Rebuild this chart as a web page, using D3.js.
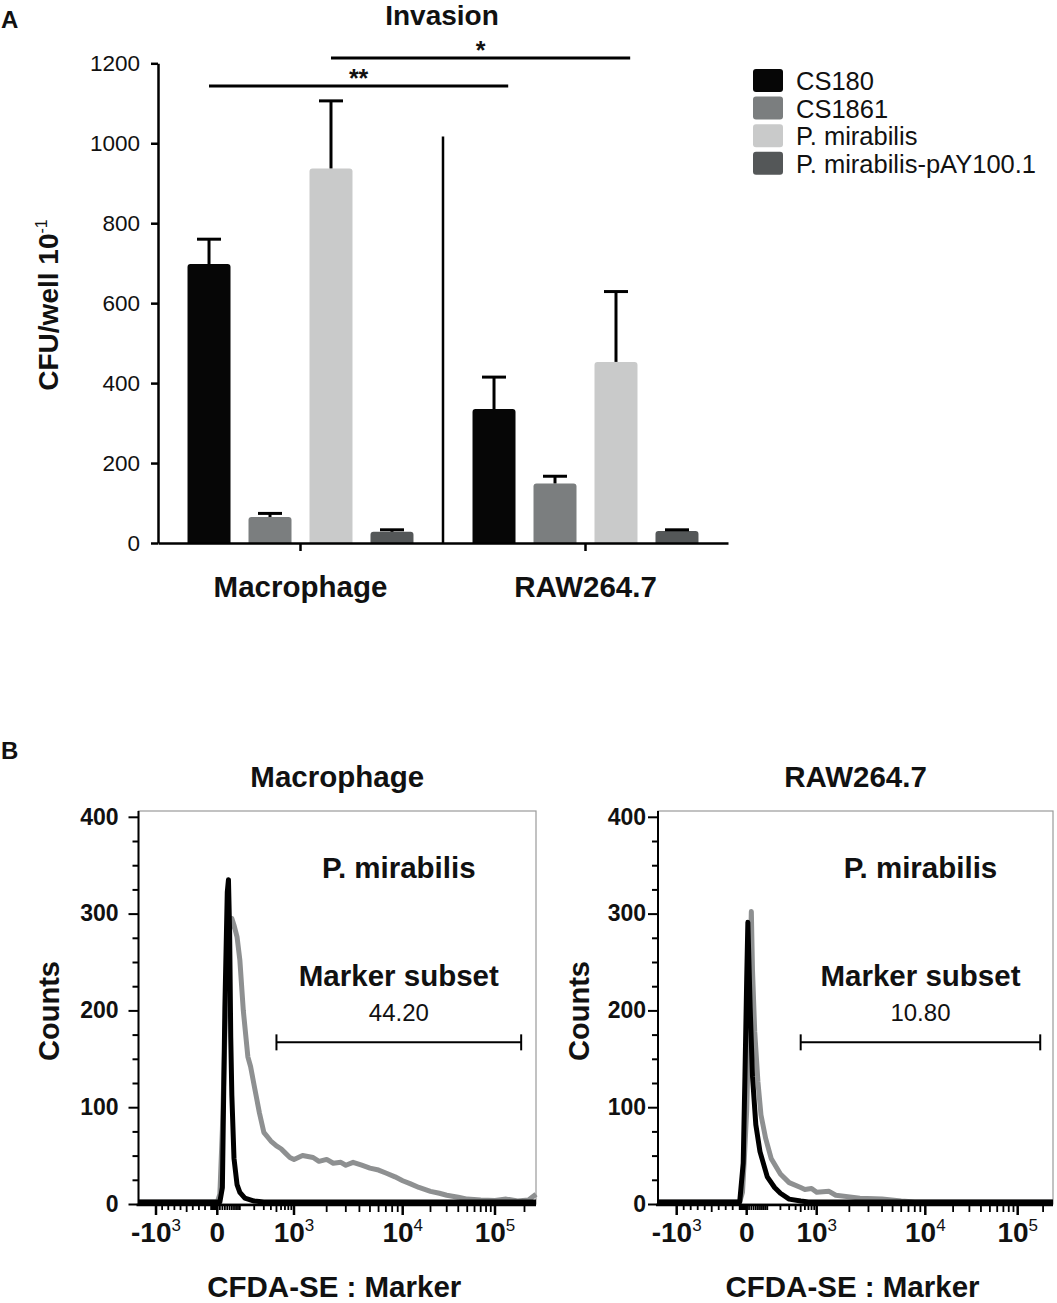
<!DOCTYPE html>
<html>
<head>
<meta charset="utf-8">
<script src="https://cdn.jsdelivr.net/npm/d3@7"></script>
<style>
    body { margin: 0; background: #fff; }
    svg { display: block; font-family: 'Liberation Sans', Arial, Helvetica, sans-serif; fill: #111; }
</style>
</head>
<body>
<svg id="figure" width="1057" height="1303"></svg>
<script>

// ---- Panel A : invasion (CFU/well x 10^-1) ----
var groups = [ 'Macrophage', 'RAW264.7' ];
var strains = [ 'CS180', 'CS1861', 'P. mirabilis', 'P. mirabilis-pAY100.1' ];
var strain_colors = [ '#060606', '#7b7e7f', '#c9caca', '#545758' ];

var macrophage_mean = [ 698, 65, 937, 28 ];
var macrophage_sem = [ 62, 9, 169, 5 ];
var raw_mean = [ 335, 149, 453, 30 ];
var raw_sem = [ 80, 18, 176, 3 ];

var cfu_ticks = [ 0, 200, 400, 600, 800, 1000, 1200 ];

// significance brackets: [group, strain] -> [group, strain]
var sig_labels = [ '**', '*' ];
var sig_from = [ [ 0, 0 ], [ 0, 2 ] ];
var sig_to = [ [ 1, 0 ], [ 1, 2 ] ];
var sig_level = [ 1143, 1213 ];

// ---- Panel B : CFDA-SE histograms, [fluorescence, counts] ----
var mac_control = [
    [ -1300, 0 ], [ 10, 0 ], [ 20, 15 ], [ 30, 200 ], [ 40, 320 ], [ 45, 333 ], [ 50, 280 ],
    [ 55, 170 ], [ 60, 110 ], [ 70, 45 ], [ 85, 18 ], [ 100, 10 ], [ 130, 4 ], [ 200, 1 ],
    [ 300, 0 ], [ 262144, 0 ]
];
var mac_sample = [
    [ -1300, 0 ], [ 0, 0 ], [ 10, 8 ], [ 20, 75 ], [ 30, 170 ], [ 40, 250 ], [ 50, 282 ],
    [ 60, 293 ], [ 70, 286 ], [ 85, 274 ], [ 100, 250 ], [ 120, 198 ], [ 150, 150 ],
    [ 170, 140 ], [ 200, 120 ], [ 250, 92 ], [ 300, 72 ], [ 400, 63 ], [ 500, 58 ],
    [ 600, 55 ], [ 700, 51 ], [ 850, 46 ], [ 1000, 44 ], [ 1200, 48 ], [ 1500, 46 ],
    [ 1700, 42 ], [ 2000, 44 ], [ 2300, 40 ], [ 2700, 41 ], [ 3000, 38 ], [ 3500, 41 ],
    [ 4200, 38 ], [ 5000, 35 ], [ 6000, 33 ], [ 7000, 30 ], [ 8500, 26 ], [ 10000, 22 ],
    [ 12000, 19 ], [ 15000, 15 ], [ 20000, 11 ], [ 25000, 9 ], [ 30000, 7 ], [ 40000, 5 ],
    [ 50000, 3 ], [ 70000, 2 ], [ 100000, 1.5 ], [ 130000, 3 ], [ 170000, 1 ],
    [ 220000, 2 ], [ 262144, 8 ]
];
var raw_control = [
    [ -1300, 0 ], [ -100, 0 ], [ -50, 40 ], [ -25, 130 ], [ 0, 230 ], [ 5, 289 ], [ 15, 200 ],
    [ 25, 130 ], [ 40, 80 ], [ 60, 52 ], [ 100, 26 ], [ 150, 15 ], [ 200, 9 ], [ 300, 3 ],
    [ 500, 1 ], [ 700, 0 ], [ 262144, 0 ]
];
var raw_sample = [
    [ -1300, 0 ], [ -100, 0 ], [ -60, 10 ], [ -30, 50 ], [ 0, 95 ], [ 10, 190 ], [ 15, 250 ],
    [ 20, 300 ], [ 25, 240 ], [ 35, 176 ], [ 50, 124 ], [ 65, 90 ], [ 90, 66 ], [ 125, 45 ],
    [ 200, 29 ], [ 300, 20 ], [ 500, 15 ], [ 600, 13 ], [ 800, 14 ], [ 1000, 10 ],
    [ 1300, 11 ], [ 1500, 7 ], [ 2500, 4 ], [ 4000, 3 ], [ 6000, 1 ], [ 8000, 0 ], [ 262144, 0 ]
];

var count_ticks = [ 0, 100, 200, 300, 400 ];
var count_minor = [ 25, 50, 75, 125, 150, 175, 225, 250, 275, 325, 350, 375 ];
var fl_ticks = [ -1000, 0, 1000, 10000, 100000 ];
var fl_tick_base = [ '-10', '0', '10', '10', '10' ];
var fl_tick_exp = [ '3', '', '3', '4', '5' ];
var marker_gate = [ 500, 185000 ];
var marker_level = 167;
var marker_pct = [ '44.20', '10.80' ];

// axis calibration of the biexponential display (value -> px from box left)
var fl_anchor_values = [ -1300, -1000, 0, 1000, 10000, 100000, 262144 ];

var svg = d3.select( '#figure' );

draw_panel_a();
draw_panel_b();

function draw_panel_a () {

    var y = d3.scaleLinear().domain( [ 0, 1200 ] ).range( [ 543, 63.3 ] );
    var x0 = d3.scaleBand().domain( groups ).range( [ 158, 728 ] );
    var x1 = d3.scaleBand().domain( strains ).range( [ 0, x0.bandwidth() ] )
        .paddingInner( 0.295 ).paddingOuter( 0.484 );
    var means = [ macrophage_mean, raw_mean ];
    var sems = [ macrophage_sem, raw_sem ];

    var g = svg.append( 'g' );

    svg.append( 'defs' ).append( 'clipPath' ).attr( 'id', 'above-zero' )
        .append( 'rect' )
        .attr( 'x', 0 ).attr( 'y', 0 )
        .attr( 'width', 1057 ).attr( 'height', y( 0 ) );

    g.append( 'text' ).text( 'A' )
        .attr( 'x', 1 ).attr( 'y', 28 )
        .attr( 'font-size', '24px' ).attr( 'font-weight', 'bold' );

    g.append( 'text' ).text( 'Invasion' )
        .attr( 'x', 442 ).attr( 'y', 25 )
        .attr( 'text-anchor', 'middle' )
        .attr( 'font-size', '28px' ).attr( 'font-weight', 'bold' );

    // Bars
    var rows = [];
    groups.forEach( function ( grp, gi ) {
        strains.forEach( function ( s, si ) {
            rows.push( { group: grp, strain: s, color: strain_colors[ si ], mean: means[ gi ][ si ], sem: sems[ gi ][ si ] } );
        });
    });

    g.append( 'g' ).attr( 'clip-path', 'url(#above-zero)' )
        .selectAll( 'rect' ).data( rows ).enter().append( 'rect' )
        .attr( 'x', function ( d ) { return x0( d.group ) + x1( d.strain ); } )
        .attr( 'y', function ( d ) { return y( d.mean ); } )
        .attr( 'width', x1.bandwidth() )
        .attr( 'height', function ( d ) { return y( 0 ) - y( d.mean ) + 6; } )
        .attr( 'rx', 3 )
        .attr( 'fill', function ( d ) { return d.color; } );

    // Error bars (upper whisker only)
    var err = g.append( 'g' ).attr( 'stroke', '#000' ).attr( 'stroke-width', 3 );
    rows.forEach( function ( d ) {
        var cx = x0( d.group ) + x1( d.strain ) + x1.bandwidth() / 2;
        err.append( 'line' )
            .attr( 'x1', cx ).attr( 'x2', cx )
            .attr( 'y1', y( d.mean ) ).attr( 'y2', y( d.mean + d.sem ) );
        err.append( 'line' )
            .attr( 'x1', cx - 12 ).attr( 'x2', cx + 12 )
            .attr( 'y1', y( d.mean + d.sem ) ).attr( 'y2', y( d.mean + d.sem ) );
    });

    // Separator between cell types
    g.append( 'line' )
        .attr( 'x1', x0( groups[ 1 ] ) ).attr( 'x2', x0( groups[ 1 ] ) )
        .attr( 'y1', y( 0 ) ).attr( 'y2', y( 1017 ) )
        .attr( 'stroke', '#000' ).attr( 'stroke-width', 2.5 );

    // Axes
    var y_axis = g.append( 'g' ).attr( 'transform', 'translate(158,0)' )
        .call( d3.axisLeft( y ).tickValues( cfu_ticks ).tickFormat( d3.format( 'd' ) )
            .tickSize( 7 ).tickPadding( 11 ).tickSizeOuter( 0 ) );
    var x_axis = g.append( 'g' ).attr( 'transform', 'translate(0,' + y( 0 ) + ')' )
        .call( d3.axisBottom( x0 ).tickSize( 8 ).tickSizeOuter( 0 ).tickFormat( '' ) );

    [ y_axis, x_axis ].forEach( function ( a ) {
        a.select( '.domain' ).attr( 'stroke', '#000' ).attr( 'stroke-width', 2.5 );
        a.selectAll( '.tick line' ).attr( 'stroke', '#000' ).attr( 'stroke-width', 2.5 );
        a.selectAll( 'text' ).attr( 'font-size', '22.5px' ).attr( 'fill', '#111' )
            .attr( 'font-family', null );
    });

    g.selectAll( '.group-label' ).data( groups ).enter().append( 'text' )
        .attr( 'class', 'group-label' )
        .attr( 'x', function ( d ) { return x0( d ) + x0.bandwidth() / 2; } )
        .attr( 'y', 597 )
        .attr( 'text-anchor', 'middle' )
        .attr( 'font-size', '29.5px' ).attr( 'font-weight', 'bold' )
        .text( function ( d ) { return d; } );

    var yt = g.append( 'text' )
        .attr( 'transform', 'translate(58,305) rotate(-90)' )
        .attr( 'text-anchor', 'middle' )
        .attr( 'font-size', '28px' ).attr( 'font-weight', 'bold' );
    yt.append( 'tspan' ).text( 'CFU/well 10' );
    yt.append( 'tspan' ).text( '-1' ).attr( 'font-size', '16px' ).attr( 'font-weight', 'normal' ).attr( 'dy', -11 );

    // Significance
    sig_labels.forEach( function ( lab, i ) {
        var a = sig_from[ i ], b = sig_to[ i ];
        var xa = x0( groups[ a[ 0 ] ] ) + x1( strains[ a[ 1 ] ] ) + x1.bandwidth() / 2;
        var xb = x0( groups[ b[ 0 ] ] ) + x1( strains[ b[ 1 ] ] ) + x1.bandwidth() * 0.83;
        g.append( 'line' )
            .attr( 'x1', xa ).attr( 'x2', xb )
            .attr( 'y1', y( sig_level[ i ] ) ).attr( 'y2', y( sig_level[ i ] ) )
            .attr( 'stroke', '#000' ).attr( 'stroke-width', 3 );
        g.append( 'text' ).text( lab )
            .attr( 'x', ( xa + xb ) / 2 ).attr( 'y', y( sig_level[ i ] ) + 1 )
            .attr( 'text-anchor', 'middle' )
            .attr( 'font-size', '25px' ).attr( 'font-weight', 'bold' );
    });

    // Legend
    var legend = g.append( 'g' ).attr( 'transform', 'translate(753,69)' );
    var items = legend.selectAll( 'g' ).data( strains ).enter().append( 'g' )
        .attr( 'transform', function ( d, i ) { return 'translate(0,' + ( i * 27.6 ) + ')'; } );
    items.append( 'rect' )
        .attr( 'width', 30 ).attr( 'height', 23 ).attr( 'rx', 3 )
        .attr( 'fill', function ( d, i ) { return strain_colors[ i ]; } );
    items.append( 'text' )
        .attr( 'x', 43 ).attr( 'y', 21 )
        .attr( 'font-size', '25.5px' )
        .text( function ( d ) { return d; } );

}

function draw_panel_b () {

    svg.append( 'text' ).text( 'B' )
        .attr( 'x', 1 ).attr( 'y', 759 )
        .attr( 'font-size', '24px' ).attr( 'font-weight', 'bold' );

    draw_histogram(
        { left: 138.5, right: 536, anchor_px: [ 0, 17.5, 78.8, 155.5, 264.2, 356.5, 397.5 ], pad: 10, counts_x: 59 },
        groups[ 0 ], mac_control, mac_sample, marker_pct[ 0 ] );

    draw_histogram(
        { left: 658, right: 1053, anchor_px: [ 0, 18.7, 88.7, 158.7, 267.3, 359.7, 395 ], pad: 2, counts_x: 589 },
        groups[ 1 ], raw_control, raw_sample, marker_pct[ 1 ] );

}

function draw_histogram ( layout, title, control, sample, pct ) {

    var tf = function ( v ) { return v < 0 ? v / 100 : Math.asinh( v / 100 ); };
    var lin = d3.scaleLinear()
        .domain( fl_anchor_values.map( tf ) )
        .range( layout.anchor_px.map( function ( p ) { return layout.left + p; } ) );
    var x = function ( v ) { return lin( tf( v ) ); };
    var y = d3.scaleLinear().domain( [ 0, 406 ] ).range( [ 1204, 811 ] );

    var g = svg.append( 'g' );
    var cx = ( layout.left + layout.right ) / 2;

    // frame
    g.append( 'rect' )
        .attr( 'x', layout.left ).attr( 'y', y( 406 ) )
        .attr( 'width', layout.right - layout.left ).attr( 'height', y( 0 ) - y( 406 ) )
        .attr( 'fill', 'none' ).attr( 'stroke', '#9a9a9a' ).attr( 'stroke-width', 1.2 );

    var line = d3.line()
        .x( function ( d ) { return x( d[ 0 ] ); } )
        .y( function ( d ) { return y( d[ 1 ] ) - 2; } );

    g.append( 'path' ).datum( sample ).attr( 'd', line )
        .attr( 'fill', 'none' ).attr( 'stroke', '#8e9091' ).attr( 'stroke-width', 5 )
        .attr( 'stroke-linejoin', 'round' );
    g.append( 'path' ).datum( control ).attr( 'd', line )
        .attr( 'fill', 'none' ).attr( 'stroke', '#000' ).attr( 'stroke-width', 5 )
        .attr( 'stroke-linejoin', 'round' );

    // y axis
    var ya = g.append( 'g' ).attr( 'transform', 'translate(' + layout.left + ',0)' )
        .call( d3.axisLeft( y ).tickValues( count_ticks ).tickSize( 10 ).tickPadding( layout.pad ).tickSizeOuter( 0 ) );
    var ym = g.append( 'g' ).attr( 'transform', 'translate(' + layout.left + ',0)' )
        .call( d3.axisLeft( y ).tickValues( count_minor ).tickSize( 6 ).tickSizeOuter( 0 ).tickFormat( '' ) );
    [ ya, ym ].forEach( function ( a ) {
        a.select( '.domain' ).remove();
        a.selectAll( '.tick line' ).attr( 'stroke', '#000' ).attr( 'stroke-width', 2 );
        a.selectAll( 'text' ).attr( 'font-size', '23px' ).attr( 'font-weight', 'bold' )
            .attr( 'fill', '#111' ).attr( 'font-family', null );
    });
    g.append( 'line' )
        .attr( 'x1', layout.left ).attr( 'x2', layout.left )
        .attr( 'y1', y( 406 ) ).attr( 'y2', y( 0 ) + 1 )
        .attr( 'stroke', '#000' ).attr( 'stroke-width', 2 );

    // x axis (biexponential)
    g.append( 'line' )
        .attr( 'x1', layout.left - 2 ).attr( 'x2', layout.right )
        .attr( 'y1', y( 0 ) + 1 ).attr( 'y2', y( 0 ) + 1 )
        .attr( 'stroke', '#000' ).attr( 'stroke-width', 2.5 );

    var minor = d3.range( -900, 0, 100 )
        .concat( d3.range( -90, 100, 10 ) )
        .concat( d3.range( 100, 1000, 100 ) )
        .concat( d3.range( 2000, 10000, 1000 ) )
        .concat( d3.range( 20000, 100000, 10000 ) )
        .concat( [ 200000 ] );

    g.append( 'g' ).selectAll( 'line' ).data( minor ).enter().append( 'line' )
        .attr( 'x1', x ).attr( 'x2', x )
        .attr( 'y1', y( 0 ) + 1 ).attr( 'y2', function ( d ) { return y( 0 ) + ( d % 500 === 0 && d !== 0 ? 8 : 6 ); } )
        .attr( 'stroke', '#000' ).attr( 'stroke-width', 1.8 );

    g.append( 'g' ).selectAll( 'line' ).data( fl_ticks ).enter().append( 'line' )
        .attr( 'x1', x ).attr( 'x2', x )
        .attr( 'y1', y( 0 ) + 1 ).attr( 'y2', y( 0 ) + 11 )
        .attr( 'stroke', '#000' ).attr( 'stroke-width', 2.5 );

    var labels = g.append( 'g' ).selectAll( 'text' ).data( fl_ticks ).enter().append( 'text' )
        .attr( 'x', x ).attr( 'y', 1242 )
        .attr( 'text-anchor', 'middle' )
        .attr( 'font-size', '28px' ).attr( 'font-weight', 'bold' );
    labels.append( 'tspan' ).text( function ( d, i ) { return fl_tick_base[ i ]; } );
    labels.append( 'tspan' ).text( function ( d, i ) { return fl_tick_exp[ i ]; } )
        .attr( 'font-size', '17px' ).attr( 'font-weight', 'normal' ).attr( 'dy', -11 );

    // texts
    g.append( 'text' ).text( title )
        .attr( 'x', cx ).attr( 'y', 787 )
        .attr( 'text-anchor', 'middle' ).attr( 'font-size', '29.5px' ).attr( 'font-weight', 'bold' );

    var mx = ( x( marker_gate[ 0 ] ) + x( marker_gate[ 1 ] ) ) / 2;
    g.append( 'text' ).text( strains[ 2 ] )
        .attr( 'x', mx ).attr( 'y', 878 )
        .attr( 'text-anchor', 'middle' ).attr( 'font-size', '29.5px' ).attr( 'font-weight', 'bold' );
    g.append( 'text' ).text( 'Marker subset' )
        .attr( 'x', mx ).attr( 'y', 986 )
        .attr( 'text-anchor', 'middle' ).attr( 'font-size', '29.5px' ).attr( 'font-weight', 'bold' );
    g.append( 'text' ).text( pct )
        .attr( 'x', mx ).attr( 'y', 1021 )
        .attr( 'text-anchor', 'middle' ).attr( 'font-size', '24px' );

    // marker gate
    var my = y( marker_level );
    var mk = g.append( 'g' ).attr( 'stroke', '#000' ).attr( 'stroke-width', 2 );
    mk.append( 'line' )
        .attr( 'x1', x( marker_gate[ 0 ] ) ).attr( 'x2', x( marker_gate[ 1 ] ) )
        .attr( 'y1', my ).attr( 'y2', my );
    marker_gate.forEach( function ( v ) {
        mk.append( 'line' )
            .attr( 'x1', x( v ) ).attr( 'x2', x( v ) )
            .attr( 'y1', my - 8 ).attr( 'y2', my + 8 );
    });

    g.append( 'text' ).text( 'Counts' )
        .attr( 'transform', 'translate(' + layout.counts_x + ',1011) rotate(-90)' )
        .attr( 'text-anchor', 'middle' ).attr( 'font-size', '29px' ).attr( 'font-weight', 'bold' );

    g.append( 'text' ).text( 'CFDA-SE : Marker' )
        .attr( 'x', cx - 3 ).attr( 'y', 1297 )
        .attr( 'text-anchor', 'middle' ).attr( 'font-size', '29.5px' ).attr( 'font-weight', 'bold' );

}

</script>
</body>
</html>
